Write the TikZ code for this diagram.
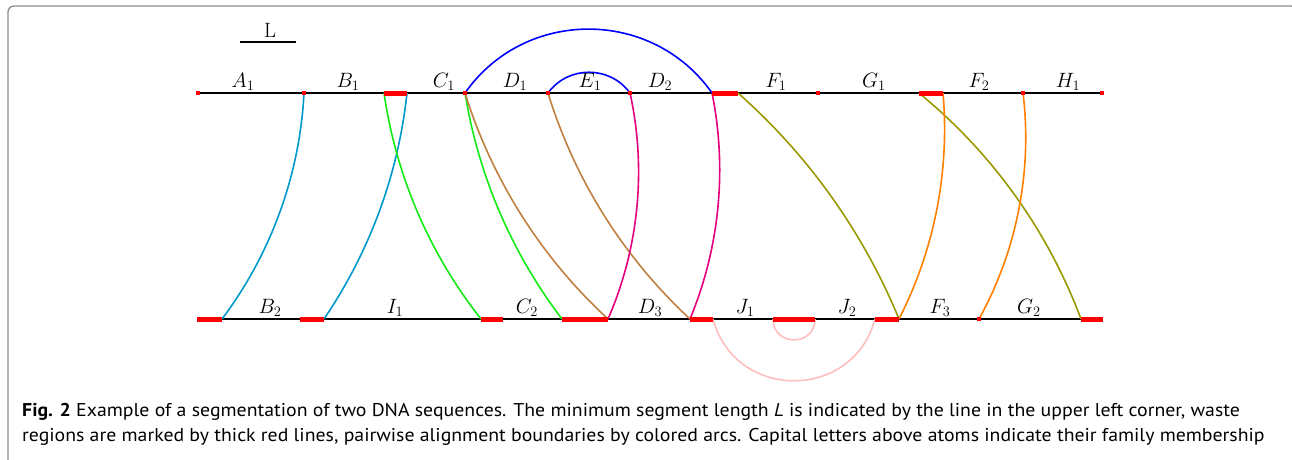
\documentclass[tikz,border=0pt]{standalone}
\usepackage{fontspec}
\newfontfamily\capfont[FakeStretch=1.07]{PT Sans}
\definecolor{cyanc}{RGB}{0,153,204}
\definecolor{greenc}{RGB}{20,235,20}
\definecolor{brownc}{RGB}{191,128,64}
\definecolor{magc}{RGB}{230,0,126}
\definecolor{olivec}{RGB}{153,153,0}
\definecolor{orangec}{RGB}{255,128,0}
\definecolor{bluec}{RGB}{0,0,255}
\definecolor{pinkc}{RGB}{255,190,190}
\definecolor{framec}{RGB}{140,140,140}
\begin{document}
\begin{tikzpicture}[x=1pt,y=1pt,
  seq/.style={line width=1.8pt, black},
  waste/.style={line width=5pt, red},
  dotn/.style={fill=red, inner sep=0pt, minimum size=4pt, rectangle},
  link/.style={line width=1.6pt, looseness=0.87},
  lab/.style={anchor=base, font=\huge},
]
\useasboundingbox (0,0) rectangle (1292,-459);
\clip (0,0) rectangle (1292,-459);
% frame
\draw[framec, line width=1.3pt, rounded corners=6pt] (8,-480) -- (8,-6) -- (1297,-6) -- (1297,-480);
% scale bar L
\coordinate (La) at (240,-42);
\coordinate (Lb) at (296,-42);
\draw[line width=1.8pt] (La) -- (Lb);
\node[anchor=base, font=\huge] (Lt) at (270,-37) {L};
% top coordinates
\foreach \n/\x in {tA/198, tB/304, tWa/384, tWb/407, tC/465, tE/548, tEe/630, tXa/712, tXb/738, tG/818, tYa/919, tYb/943, tH/1023, tEnd/1102}
  \coordinate (\n) at (\x,-93);
\foreach \n/\x in {bS/197, bPb/222, bQa/300, bQb/324, bRa/481, bRb/503, bSa/562, bSb/608, bTa/690, bTb/713, bUa/773, bUb/815, bVa/875, bVb/899, bF/979, bZa/1081, bEnd/1103}
  \coordinate (\n) at (\x,-319);
% sequences
\draw[seq] (tA) -- (tEnd);
\draw[seq] (bS) -- (bEnd);
% blue arcs above
\draw[bluec, line width=1.6pt] (tC) to[bend left=55, looseness=1.08] (tXa);
\draw[bluec, line width=1.6pt] (tE) to[bend left=54, looseness=1.07] (tEe);
% pink arcs below
\draw[pinkc, line width=1.6pt] (bTb) to[bend right=75, looseness=1.35] (bVa);
\draw[pinkc, line width=1.6pt] (bUa) to[bend right=90, looseness=1.70] (bUb);
% links
\draw[link, cyanc] (tB) to[bend left=17] (bPb);
\draw[link, cyanc] (tWb) to[bend left=14] (bQb);
\draw[link, greenc] (tWa) to[bend right=15] (bRa);
\draw[link, greenc] (tC) to[bend right=14] (bSa);
\draw[link, brownc] (tC) to[bend right=15] (bSb);
\draw[link, brownc] (tE) to[bend right=15] (bTa);
\draw[link, magc] (tEe) to[bend left=18] (bSb);
\draw[link, magc] (tXa) to[bend left=17] (bTa);
\draw[link, olivec] (tXb) to[bend left=13] (bVb);
\draw[link, olivec] (tYa) to[bend left=15] (bZa);
\draw[link, orangec] (tYb) to[bend left=16] (bVb);
\draw[link, orangec] (tH) to[bend left=18] (bF);
% waste regions
\draw[waste] (tWa) -- (tWb);
\draw[waste] (tXa) -- (tXb);
\draw[waste] (tYa) -- (tYb);
\draw[waste] (bS) -- (bPb);
\draw[waste] (bQa) -- (bQb);
\draw[waste] (bRa) -- (bRb);
\draw[waste] (bSa) -- (bSb);
\draw[waste] (bTa) -- (bTb);
\draw[waste] (bUa) -- (bUb);
\draw[waste] (bVa) -- (bVb);
\draw[waste] (bZa) -- (bEnd);
% boundary dots
\foreach \n in {tA, tB, tC, tE, tEe, tG, tH, tEnd, bF}
  \node[dotn] (d\n) at (\n) {};
% labels
\node[lab] (A1) at (243,-87) {$A_1$};
\node[lab] (B1) at (348,-87) {$B_1$};
\node[lab] (C1) at (444,-87) {$C_1$};
\node[lab] (D1) at (515,-87) {$D_1$};
\node[lab] (E1) at (590,-87) {$E_1$};
\node[lab] (D2) at (660,-87) {$D_2$};
\node[lab] (F1) at (776,-87) {$F_1$};
\node[lab] (G1) at (874,-87) {$G_1$};
\node[lab] (F2) at (979,-87) {$F_2$};
\node[lab] (H1) at (1068,-87) {$H_1$};
\node[lab] (B2) at (270,-313) {$B_2$};
\node[lab] (I1) at (395,-313) {$I_1$};
\node[lab] (C2) at (527,-313) {$C_2$};
\node[lab] (D3) at (650,-313) {$D_3$};
\node[lab] (J1) at (745,-313) {$J_1$};
\node[lab] (J2) at (847,-313) {$J_2$};
\node[lab] (F3) at (940,-313) {$F_3$};
\node[lab] (G2) at (1029,-313) {$G_2$};
% caption
\node[anchor=base west, inner sep=0pt, font=\capfont\fontsize{18.5}{22}\selectfont] (cap1) at (22,-416)
  {\textbf{Fig. 2} Example of a segmentation of two DNA sequences. The minimum segment length \textit{L} is indicated by the line in the upper left corner, waste};
\node[anchor=base west, inner sep=0pt, font=\capfont\fontsize{18.5}{22}\selectfont] (cap2) at (22,-441)
  {regions are marked by thick red lines, pairwise alignment boundaries by colored arcs. Capital letters above atoms indicate their family membership};
\end{tikzpicture}
\end{document}
